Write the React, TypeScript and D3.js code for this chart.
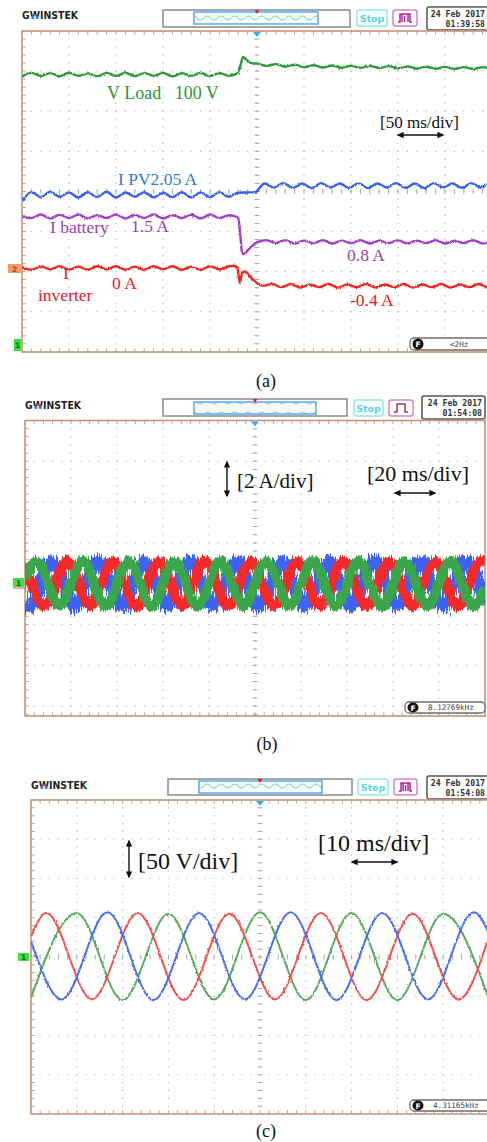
import React, { useEffect, useRef } from 'react';
import * as d3 from 'd3';

type Pt = [number, number];

// ---------- (a) step change, 50 ms/div (time in ms) ----------
const A_VLOAD: Pt[] = [
  [0, 99.0], [10, 100.8], [20, 99.3], [30, 100.7], [40, 99.2], [50, 100.9], [60, 99.4], [70, 100.6],
  [80, 99.1], [90, 100.8], [100, 99.3], [110, 100.9], [120, 99.2], [130, 100.7], [140, 99.4], [150, 100.8],
  [160, 99.1], [170, 100.6], [180, 99.3], [190, 100.9], [200, 99.2], [210, 100.7], [220, 99.4], [228, 100.3],
  [232, 103.6], [235, 108.8], [239, 107.3], [244, 105.7], [250, 105.4], [260, 104.3], [270, 105.2],
  [280, 103.9], [290, 104.9], [300, 103.6], [310, 104.7], [320, 103.5], [330, 104.5], [340, 103.4],
  [350, 104.4], [360, 103.3], [370, 104.3], [380, 103.2], [390, 104.2], [400, 103.1], [410, 104.0],
  [420, 103.0], [430, 103.9], [440, 102.9], [450, 103.8], [460, 102.8], [470, 103.7], [480, 102.8],
  [490, 103.6], [500, 102.9],
];
const A_IPV: Pt[] = [
  [0, 1.86], [4, 2.0], [10, 2.12], [20, 1.98], [30, 2.13], [40, 1.99], [50, 2.11], [60, 1.97], [70, 2.12],
  [80, 1.98], [90, 2.13], [100, 1.97], [110, 2.11], [120, 1.99], [130, 2.12], [140, 1.97], [150, 2.1],
  [160, 1.98], [170, 2.12], [180, 1.97], [190, 2.11], [200, 1.98], [210, 2.12], [220, 1.99], [230, 2.1],
  [240, 2.11], [248, 2.12], [258, 2.36], [268, 2.25], [278, 2.37], [288, 2.24], [298, 2.36], [308, 2.23],
  [318, 2.37], [328, 2.25], [338, 2.36], [348, 2.24], [358, 2.37], [368, 2.23], [378, 2.36], [388, 2.25],
  [398, 2.37], [408, 2.24], [418, 2.36], [428, 2.23], [438, 2.37], [448, 2.25], [458, 2.36], [468, 2.24],
  [478, 2.37], [488, 2.25], [498, 2.36], [500, 2.34],
];
const A_IBAT: Pt[] = [
  [0, 1.5], [10, 1.45], [20, 1.55], [30, 1.44], [40, 1.54], [50, 1.45], [60, 1.55], [70, 1.44], [80, 1.53],
  [90, 1.45], [100, 1.55], [110, 1.44], [120, 1.54], [130, 1.45], [140, 1.55], [150, 1.44], [160, 1.53],
  [170, 1.45], [180, 1.54], [190, 1.44], [200, 1.55], [210, 1.45], [220, 1.53], [227, 1.5], [230, 1.45],
  [232, 1.05], [234, 0.5], [236, 0.44], [240, 0.55], [245, 0.68], [250, 0.77], [260, 0.83], [270, 0.75],
  [280, 0.83], [290, 0.74], [300, 0.82], [310, 0.75], [320, 0.83], [330, 0.74], [340, 0.82], [350, 0.75],
  [360, 0.83], [370, 0.74], [380, 0.82], [390, 0.75], [400, 0.83], [410, 0.74], [420, 0.82], [430, 0.75],
  [440, 0.83], [450, 0.74], [460, 0.82], [470, 0.75], [480, 0.83], [490, 0.74], [500, 0.8],
];
const A_IINV: Pt[] = [
  [0, 0.02], [10, -0.04], [20, 0.04], [30, -0.03], [40, 0.04], [50, -0.04], [60, 0.03], [70, -0.04],
  [80, 0.04], [90, -0.03], [100, 0.04], [110, -0.04], [120, 0.03], [130, -0.04], [140, 0.04], [150, -0.03],
  [160, 0.04], [170, -0.04], [180, 0.03], [190, -0.04], [200, 0.04], [210, -0.03], [220, 0.04], [226, 0.05],
  [229, 0.0], [232, -0.34], [234, -0.12], [237, -0.08], [243, -0.2], [250, -0.34], [256, -0.4],
  [266, -0.36], [276, -0.43], [286, -0.36], [296, -0.44], [306, -0.37], [316, -0.43], [326, -0.36],
  [336, -0.44], [346, -0.37], [356, -0.43], [366, -0.36], [376, -0.44], [386, -0.37], [396, -0.43],
  [406, -0.36], [416, -0.44], [426, -0.37], [436, -0.43], [446, -0.36], [456, -0.44], [466, -0.37],
  [476, -0.43], [486, -0.36], [496, -0.44], [500, -0.41],
];

// ---------- (b) inverter currents, 20 ms/div, 2 A/div (peaks & troughs, A) ----------
const B_GREEN: Pt[] = [
  [0, 0.2], [5, 1.1], [15, -1.1], [25, 1.12], [35, -1.1], [45, 1.1], [55, -1.12], [65, 1.1], [75, -1.1],
  [85, 1.12], [95, -1.1], [105, 1.1], [115, -1.1], [125, 1.12], [135, -1.1], [145, 1.1], [155, -1.12],
  [165, 1.1], [175, -1.1], [185, 1.12], [195, -1.1], [200, -0.2],
];
const B_RED: Pt[] = [
  [0, 0.95], [8.3, -1.1], [18.3, 1.12], [28.3, -1.1], [38.3, 1.1], [48.3, -1.12], [58.3, 1.1], [68.3, -1.1],
  [78.3, 1.12], [88.3, -1.1], [98.3, 1.1], [108.3, -1.12], [118.3, 1.1], [128.3, -1.1], [138.3, 1.12],
  [148.3, -1.1], [158.3, 1.1], [168.3, -1.12], [178.3, 1.1], [188.3, -1.1], [198.3, 1.12], [200, 1.05],
];
const B_BLUE: Pt[] = [
  [0, -0.95], [1.7, -1.12], [11.7, 1.1], [21.7, -1.12], [31.7, 1.12], [41.7, -1.1], [51.7, 1.1],
  [61.7, -1.12], [71.7, 1.12], [81.7, -1.1], [91.7, 1.1], [101.7, -1.12], [111.7, 1.12], [121.7, -1.1],
  [131.7, 1.1], [141.7, -1.12], [151.7, 1.12], [161.7, -1.1], [171.7, 1.1], [181.7, -1.12], [191.7, 1.12],
  [200, -0.95],
];

// ---------- (c) load voltages, 10 ms/div, 50 V/div (peaks & troughs, V) ----------
const C_RED: Pt[] = [
  [0, 26], [3.3, 56], [13.3, -54], [23.3, 56], [33.3, -55], [43.3, 55], [53.3, -54], [63.3, 56],
  [73.3, -55], [83.3, 55], [93.3, -54], [100, 26],
];
const C_GREEN: Pt[] = [
  [0, -52], [10, 56], [20, -55], [30, 55], [40, -54], [50, 57], [60, -55], [70, 56], [80, -55],
  [90, 55], [100, -54],
];
const C_BLUE: Pt[] = [
  [0, 20], [6.7, -54], [16.7, 57], [26.7, -55], [36.7, 56], [46.7, -54], [56.7, 57], [66.7, -55],
  [76.7, 56], [86.7, -54], [96.7, 57], [100, 30],
];

const W = 487;
const H = 1142;
const SERIF = '"Liberation Serif", "Times New Roman", serif';
const SANS = '"DejaVu Sans", Arial, sans-serif';
const MONO = '"DejaVu Sans Mono", monospace';

const PANELS = [
  {
    id: 'a', left: 22, top: 31, divX: 47, divY: 40.1, bottom: 352, tDiv: 50,
    logo: [22, 19], bar: [163, 10, 187, 17], inner: [194, 12, 124, 12], stop: [357, 10, 30, 16],
    trig: [393, 10, 24, 16], trigType: 'multi', date: [427, 7, 64, 23], time: '01:39:58',
    fbox: [410, 338, 90, 12], freq: '<2Hz', caption: ['(a)', 266, 387],
  },
  {
    id: 'b', left: 25, top: 420.5, divX: 46, divY: 40.8, bottom: 716, tDiv: 20,
    logo: [25, 409], bar: [163, 399, 184, 17], inner: [194, 402, 122, 12], stop: [354, 400, 29, 16],
    trig: [389, 400, 24, 16], trigType: 'single', date: [422, 396, 63, 23], time: '01:54:08',
    fbox: [405, 702, 80, 11], freq: '8.12769kHz', caption: ['(b)', 267, 750],
  },
  {
    id: 'c', left: 31, top: 800, divX: 45.8, divY: 39.25, bottom: 1114, tDiv: 10,
    logo: [31, 789], bar: [168, 779, 184, 16], inner: [199, 781, 123, 12], stop: [358, 779, 30, 16],
    trig: [394, 779, 23, 16], trigType: 'multi', date: [427, 776, 64, 23], time: '01:54:08',
    fbox: [410, 1100, 85, 11], freq: '4.31165kHz', caption: ['(c)', 266, 1137],
  },
];

function addNoise(defs, id, fx, fy, scale, seed) {
  const f = defs.append('filter').attr('id', id).attr('filterUnits', 'userSpaceOnUse')
    .attr('x', 0).attr('y', 0).attr('width', W).attr('height', H);
  f.append('feTurbulence').attr('type', 'fractalNoise').attr('baseFrequency', `${fx} ${fy}`)
    .attr('numOctaves', 2).attr('seed', seed).attr('result', 'n');
  f.append('feDisplacementMap').attr('in', 'SourceGraphic').attr('in2', 'n').attr('scale', scale)
    .attr('xChannelSelector', 'R').attr('yChannelSelector', 'G');
}

function scales(p) {
  const x = d3.scaleLinear().domain([0, 10 * p.tDiv]).range([p.left, p.left + 10 * p.divX]);
  const yDiv = d3.scaleLinear().domain([-4, 4]).range([p.top + 8 * p.divY, p.top]);
  return { x, yDiv };
}

function drawHeader(svg, p) {
  const g = svg.append('g');
  const [lx, ly] = p.logo;
  const logo = g.append('text').attr('x', lx).attr('y', ly).attr('font-family', SANS)
    .attr('font-weight', 'bold').attr('font-size', 10.5).attr('textLength', 56)
    .attr('lengthAdjust', 'spacingAndGlyphs').attr('fill', '#222');
  logo.append('tspan').text('G');
  logo.append('tspan').attr('fill', 'url(#logoW)').text('W');
  logo.append('tspan').text('INSTEK');

  const [bx, by, bw, bh] = p.bar;
  g.append('rect').attr('x', bx).attr('y', by).attr('width', bw).attr('height', bh)
    .attr('fill', '#fff').attr('stroke', '#8a8a8a').attr('stroke-width', 1.5);
  const [ix, iy, iw, ih] = p.inner;
  g.append('rect').attr('x', ix).attr('y', iy).attr('width', iw).attr('height', ih)
    .attr('fill', 'url(#memWave)').attr('stroke', '#5aa8f0').attr('stroke-width', 1.5);
  const cx = p.left + 5 * p.divX;
  g.append('path').attr('d', `M${cx - 2.5},${by} L${cx + 2.5},${by} L${cx},${by + 4} Z`).attr('fill', '#e02030');

  const [sx, sy, sw, sh] = p.stop;
  g.append('rect').attr('x', sx).attr('y', sy).attr('width', sw).attr('height', sh).attr('rx', 2.5)
    .attr('fill', '#fff').attr('stroke', '#8ceaf2').attr('stroke-width', 1.5);
  g.append('text').attr('x', sx + sw / 2).attr('y', sy + sh / 2 + 3.5).attr('text-anchor', 'middle')
    .attr('font-family', SANS).attr('font-weight', 'bold').attr('font-size', 9.5).attr('fill', '#55d6ea')
    .text('Stop');

  const [tx, ty, tw, th] = p.trig;
  g.append('rect').attr('x', tx).attr('y', ty).attr('width', tw).attr('height', th).attr('rx', 2.5)
    .attr('fill', '#fff').attr('stroke', '#d685c8').attr('stroke-width', 1.5);
  const gx = tx + 5, gy = ty + th - 4, gh = th - 8;
  const glyph = p.trigType === 'multi'
    ? `M${gx},${gy} h2 v${-gh} h${tw - 14} v${gh} h2 M${gx + 4},${gy} v${-gh} M${gx + tw - 14},${gy} v${-gh} M${gx + 6.5},${gy} v${-gh + 2}`
    : `M${gx},${gy} h3 v${-gh} h${tw - 16} v${gh} h3`;
  g.append('path').attr('d', glyph).attr('fill', 'none')
    .attr('stroke', p.trigType === 'multi' ? '#b0209a' : '#b83050').attr('stroke-width', 1.5);

  const [dx, dy, dw, dh] = p.date;
  g.append('rect').attr('x', dx).attr('y', dy).attr('width', dw).attr('height', dh).attr('rx', 2)
    .attr('fill', '#fff').attr('stroke', '#555').attr('stroke-width', 1.5);
  const textRight = Math.min(dx + dw - 3, W - 2);
  g.append('text').attr('x', textRight).attr('y', dy + 9.5).attr('text-anchor', 'end')
    .attr('font-family', MONO).attr('font-weight', 'bold')
    .attr('font-size', 8.2).attr('fill', '#333').text('24 Feb 2017');
  g.append('text').attr('x', textRight).attr('y', dy + 19.5).attr('text-anchor', 'end')
    .attr('font-family', MONO).attr('font-weight', 'bold').attr('font-size', 8.2).attr('fill', '#333')
    .text(p.time);
}

function drawGraticule(svg, p) {
  const right = p.left + 10 * p.divX;
  const g = svg.append('g').attr('clip-path', `url(#clip-${p.id})`);
  const dx = p.divX / 5;
  const dy = p.divY / 5;
  d3.range(1, 10).forEach((k) => {
    const x = p.left + k * p.divX;
    g.append('line').attr('x1', x).attr('x2', x).attr('y1', p.top).attr('y2', p.bottom)
      .attr('stroke', '#bdbdbd').attr('stroke-width', 1.2)
      .attr('stroke-dasharray', `1.2 ${dy - 1.2}`).attr('stroke-dashoffset', 0.6);
  });
  d3.range(1, 8).forEach((k) => {
    const y = p.top + k * p.divY;
    g.append('line').attr('x1', p.left).attr('x2', right).attr('y1', y).attr('y2', y)
      .attr('stroke', '#bdbdbd').attr('stroke-width', 1.2)
      .attr('stroke-dasharray', `1.2 ${dx - 1.2}`).attr('stroke-dashoffset', 0.6);
  });
  // tick marks on the centre cross and along the frame
  const cx = p.left + 5 * p.divX;
  const cy = p.top + 4 * p.divY;
  const tick = (x1, y1, x2, y2, step, w) =>
    g.append('line').attr('x1', x1).attr('y1', y1).attr('x2', x2).attr('y2', y2)
      .attr('stroke', '#acacac').attr('stroke-width', w)
      .attr('stroke-dasharray', `1 ${step - 1}`).attr('stroke-dashoffset', 0.5);
  tick(cx, p.top, cx, p.bottom, dy, 5);
  tick(p.left, cy, right, cy, dx, 5);
  tick(p.left, p.top + 2, right, p.top + 2, dx, 3.5);
  tick(p.left, p.bottom - 2, right, p.bottom - 2, dx, 3.5);
  tick(p.left + 2, p.top, p.left + 2, p.bottom, dy, 3.5);

  svg.append('rect').attr('x', p.left).attr('y', p.top).attr('width', right - p.left)
    .attr('height', p.bottom - p.top).attr('fill', 'none').attr('stroke', '#c9947b').attr('stroke-width', 1.6);
  svg.append('path').attr('d', `M${cx - 4},${p.top + 1} L${cx + 4},${p.top + 1} L${cx},${p.top + 6} Z`)
    .attr('fill', '#27b6e6');
}

function drawFBox(svg, p) {
  const [fx, fy, fw, fh] = p.fbox;
  const g = svg.append('g');
  g.append('rect').attr('x', fx).attr('y', fy).attr('width', fw).attr('height', fh).attr('rx', 4)
    .attr('fill', '#fff').attr('stroke', '#6e6e6e').attr('stroke-width', 1.3);
  g.append('ellipse').attr('cx', fx + 8).attr('cy', fy + fh / 2).attr('rx', 5.5).attr('ry', fh / 2 - 0.5)
    .attr('fill', '#111');
  g.append('text').attr('x', fx + 8).attr('y', fy + fh / 2 + 3).attr('text-anchor', 'middle')
    .attr('font-family', SANS).attr('font-weight', 'bold').attr('font-size', 7.5).attr('fill', '#fff').text('F');
  g.append('text').attr('x', p.id === 'a' ? fx + 40 : fx + 23).attr('y', fy + fh / 2 + 2.8)
    .attr('font-family', MONO).attr('font-size', 7.6).attr('fill', '#444').text(p.freq);
}

function marker(svg, x, y, w, h, fill, label, color) {
  svg.append('rect').attr('x', x).attr('y', y).attr('width', w).attr('height', h).attr('fill', fill);
  svg.append('text').attr('x', x + w / 2).attr('y', y + h / 2 + 3).attr('text-anchor', 'middle')
    .attr('font-family', SANS).attr('font-weight', 'bold').attr('font-size', 7.5).attr('fill', color)
    .text(label);
}

function note(svg, x, y, size, color, label) {
  svg.append('text').attr('x', x).attr('y', y).attr('font-family', SERIF).attr('font-size', size)
    .attr('fill', color).style('white-space', 'pre').text(label);
}

function arrow(svg, x1, y1, x2, y2) {
  svg.append('line').attr('x1', x1).attr('y1', y1).attr('x2', x2).attr('y2', y2)
    .attr('stroke', '#111').attr('stroke-width', 1.4)
    .attr('marker-start', 'url(#head)').attr('marker-end', 'url(#head)');
}

function createChart(svg) {
  const defs = svg.append('defs');
  defs.append('marker').attr('id', 'head').attr('viewBox', '0 0 10 10').attr('refX', 8).attr('refY', 5)
    .attr('markerWidth', 5).attr('markerHeight', 5).attr('orient', 'auto-start-reverse')
    .append('path').attr('d', 'M0,0.5 L10,5 L0,9.5 Z').attr('fill', '#111');
  const grad = defs.append('linearGradient').attr('id', 'logoW').attr('x1', 0).attr('y1', 0).attr('x2', 0).attr('y2', 1);
  grad.append('stop').attr('offset', '0.55').attr('stop-color', '#222');
  grad.append('stop').attr('offset', '0.56').attr('stop-color', '#2d7be0');
  const pat = defs.append('pattern').attr('id', 'memWave').attr('patternUnits', 'userSpaceOnUse')
    .attr('width', 13.6).attr('height', 12).attr('y', 0);
  pat.append('rect').attr('width', 13.6).attr('height', 12).attr('fill', '#f6fbff');
  pat.append('path').attr('d', 'M0,6 Q3.4,2 6.8,6 T13.6,6').attr('fill', 'none')
    .attr('stroke', '#8edc8e').attr('stroke-width', 1.1);
  addNoise(defs, 'roughA', 0.7, 0.25, 2.5, 4);
  addNoise(defs, 'bandRG', 1.1, 0.06, 7, 7);
  addNoise(defs, 'bandB', 1.3, 0.04, 13, 11);
  addNoise(defs, 'spikeB', 1.6, 0.03, 28, 19);

  PANELS.forEach((p) => {
    defs.append('clipPath').attr('id', `clip-${p.id}`).append('rect')
      .attr('x', p.left).attr('y', p.top).attr('width', 10 * p.divX).attr('height', p.bottom - p.top);
    drawHeader(svg, p);
    drawGraticule(svg, p);
  });

  // ---- (a) ----
  const pa = PANELS[0];
  const sa = scales(pa);
  const chA = [
    { data: A_VLOAD, color: '#2e9a3b', offset: -2.085, perDiv: 20 },
    { data: A_IPV, color: '#3562ee', offset: -1.91, perDiv: 1.12 },
    { data: A_IBAT, color: '#a43fc6', offset: -1.96, perDiv: 1.12 },
    { data: A_IINV, color: '#f2231f', offset: -1.91, perDiv: 0.9 },
  ];
  const ga = svg.append('g').attr('clip-path', 'url(#clip-a)');
  chA.forEach((c) => {
    const line = d3.line<Pt>().x((d) => sa.x(d[0])).y((d) => sa.yDiv(c.offset + d[1] / c.perDiv))
      .curve(d3.curveMonotoneX);
    ga.append('path').datum(c.data).attr('d', line).attr('fill', 'none').attr('stroke', c.color)
      .attr('stroke-width', 2.4).attr('filter', 'url(#roughA)');
  });
  note(svg, 107, 99, 18, '#2f9338', 'V Load   100 V');
  note(svg, 380, 128, 17, '#111', '[50 ms/div]');
  arrow(svg, 398, 135, 443, 135);
  note(svg, 118, 185, 17.5, '#2f7bd2', 'I PV2.05 A');
  note(svg, 50, 233, 17.5, '#9c40a9', 'I battery');
  note(svg, 131, 232, 17.5, '#9c40a9', '1.5 A');
  note(svg, 347, 261, 17.5, '#9c40a9', '0.8 A');
  note(svg, 63, 279, 17.5, '#e8201c', 'I');
  note(svg, 38, 301, 17.5, '#e8201c', 'inverter');
  note(svg, 112, 289, 17.5, '#e8201c', '0 A');
  note(svg, 350, 306, 17.5, '#e8201c', '-0.4 A');
  marker(svg, 8, 264, 13, 9, '#f39a68', '2', '#b04010');
  marker(svg, 14, 339, 7, 12, '#38dd38', '1', '#116611');

  // ---- (b) ----
  const pb = PANELS[1];
  const sb = scales(pb);
  const gb = svg.append('g').attr('clip-path', 'url(#clip-b)');
  const lineB = d3.line<Pt>().x((d) => sb.x(d[0])).y((d) => sb.yDiv(d[1] / 2)).curve(d3.curveMonotoneX);
  gb.append('path').datum(B_BLUE).attr('d', lineB).attr('fill', 'none').attr('stroke', '#3c62f4')
    .attr('stroke-width', 3).attr('filter', 'url(#spikeB)');
  gb.append('path').datum(B_BLUE).attr('d', lineB).attr('fill', 'none').attr('stroke', '#3c62f4')
    .attr('stroke-width', 12).attr('filter', 'url(#bandB)');
  gb.append('path').datum(B_RED).attr('d', lineB).attr('fill', 'none').attr('stroke', '#f42a2a')
    .attr('stroke-width', 10).attr('filter', 'url(#bandRG)');
  gb.append('path').datum(B_GREEN).attr('d', lineB).attr('fill', 'none').attr('stroke', '#3aa64b')
    .attr('stroke-width', 10).attr('filter', 'url(#bandRG)');
  arrow(svg, 227, 462, 227, 496);
  note(svg, 237, 488, 21, '#111', '[2 A/div]');
  note(svg, 367, 481, 22, '#111', '[20 ms/div]');
  arrow(svg, 395, 493, 435, 493);
  marker(svg, 13, 578, 11, 9, '#3fe03f', '1', '#116611');
  svg.append('line').attr('x1', 13).attr('x2', 24).attr('y1', 588).attr('y2', 588).attr('stroke', '#e05050');

  // ---- (c) ----
  const pc = PANELS[2];
  const sc = scales(pc);
  const gc = svg.append('g').attr('clip-path', 'url(#clip-c)');
  const lineC = d3.line<Pt>().x((d) => sc.x(d[0])).y((d) => sc.yDiv(d[1] / 50)).curve(d3.curveMonotoneX);
  [
    { data: C_GREEN, color: '#5aaa5c' },
    { data: C_RED, color: '#f0524f' },
    { data: C_BLUE, color: '#4a6ef0' },
  ].forEach((c) => {
    gc.append('path').datum(c.data).attr('d', lineC).attr('fill', 'none').attr('stroke', c.color)
      .attr('stroke-width', 2).attr('filter', 'url(#roughA)');
  });
  arrow(svg, 129, 841, 129, 877);
  note(svg, 138, 869, 24, '#111', '[50 V/div]');
  note(svg, 318, 851, 24, '#111', '[10 ms/div]');
  arrow(svg, 352, 862, 397, 862);
  marker(svg, 18, 953, 11, 8, '#3fe03f', '1', '#116611');

  PANELS.forEach((p) => {
    drawFBox(svg, p);
    svg.append('text').attr('x', p.caption[1]).attr('y', p.caption[2]).attr('text-anchor', 'middle')
      .attr('font-family', SERIF).attr('font-size', 18).attr('fill', '#111').text(p.caption[0]);
  });
}

export default function App() {
  const ref = useRef<SVGSVGElement>(null);

  useEffect(() => {
    const svg = d3.select(ref.current);
    svg.selectAll('*').remove();
    createChart(svg);
  }, []);

  return (
    <svg
      ref={ref}
      width={W}
      height={H}
      style={{ position: 'absolute', left: 0, top: 0, background: '#fff' }}
    />
  );
}
